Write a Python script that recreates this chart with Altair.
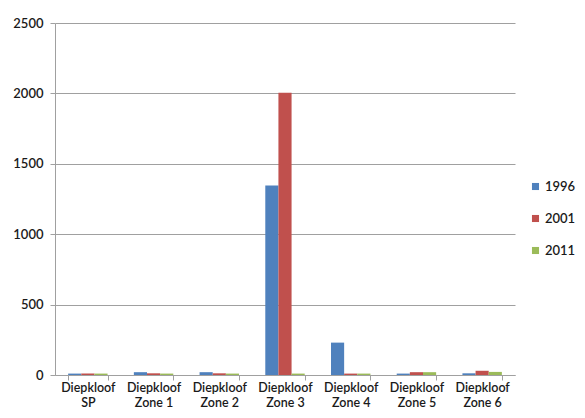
import altair as alt
import pandas as pd

categories = ["Diepkloof SP", "Diepkloof Zone 1", "Diepkloof Zone 2", "Diepkloof Zone 3",
              "Diepkloof Zone 4", "Diepkloof Zone 5", "Diepkloof Zone 6"]
years = ["1996", "2001", "2011"]
v1996 = [10, 20, 20, 1345, 230, 10, 12]
v2001 = [10, 12, 12, 2005, 10, 20, 30]
v2011 = [10, 10, 10, 10, 10, 20, 22]
colors = ["#4F81BD", "#C0504D", "#9BBB59"]

rows = []
for y, vals in zip(years, [v1996, v2001, v2011]):
    for c, v in zip(categories, vals):
        rows.append({"area": c, "year": y, "value": v})
df = pd.DataFrame(rows)

FONT = "Lato"

chart = alt.Chart(df).mark_bar().encode(
    x=alt.X("area:N", sort=categories, title=None,
            scale=alt.Scale(paddingInner=0.4, paddingOuter=0.2),
            axis=alt.Axis(labelAngle=0, tickBand="extent", domainColor="#A0A0A0",
                          tickColor="#A0A0A0", tickSize=5, labelPadding=1,
                          labelExpr="[substring(datum.label,0,9), substring(datum.label,10)]",
                          labelFont=FONT, labelFontSize=12.5, labelColor="#1a1a1a",
                          labelFontWeight=600, labelLineHeight=15)),
    xOffset=alt.XOffset("year:N", sort=years),
    y=alt.Y("value:Q", title=None,
            scale=alt.Scale(domain=[0, 2500]),
            axis=alt.Axis(values=[0, 500, 1000, 1500, 2000, 2500], format="d",
                          gridColor="#A0A0A0",
                          domainColor="#A0A0A0", tickColor="#A0A0A0", tickSize=5,
                          labelPadding=7, labelFont=FONT, labelFontSize=13,
                          labelFontWeight=600, labelColor="#1a1a1a")),
    color=alt.Color("year:N", sort=years,
                    scale=alt.Scale(domain=years, range=colors),
                    legend=alt.Legend(title=None, orient="none", legendX=474, legendY=157,
                                      symbolType="square", symbolSize=50,
                                      labelFont=FONT, labelFontSize=13, labelColor="#1a1a1a",
                                      labelFontWeight=600, labelOffset=3,
                                      rowPadding=18, symbolStrokeWidth=0)),
).properties(
    width=460, height=352,
    autosize=alt.AutoSizeParams(type="none"),
    padding={"left": 47, "top": 15, "right": 62, "bottom": 35},
).configure_view(stroke=None).configure_axis(grid=False).configure_axisY(grid=True)

chart.save("out.html", embed_options={"renderer": "svg", "actions": False})
